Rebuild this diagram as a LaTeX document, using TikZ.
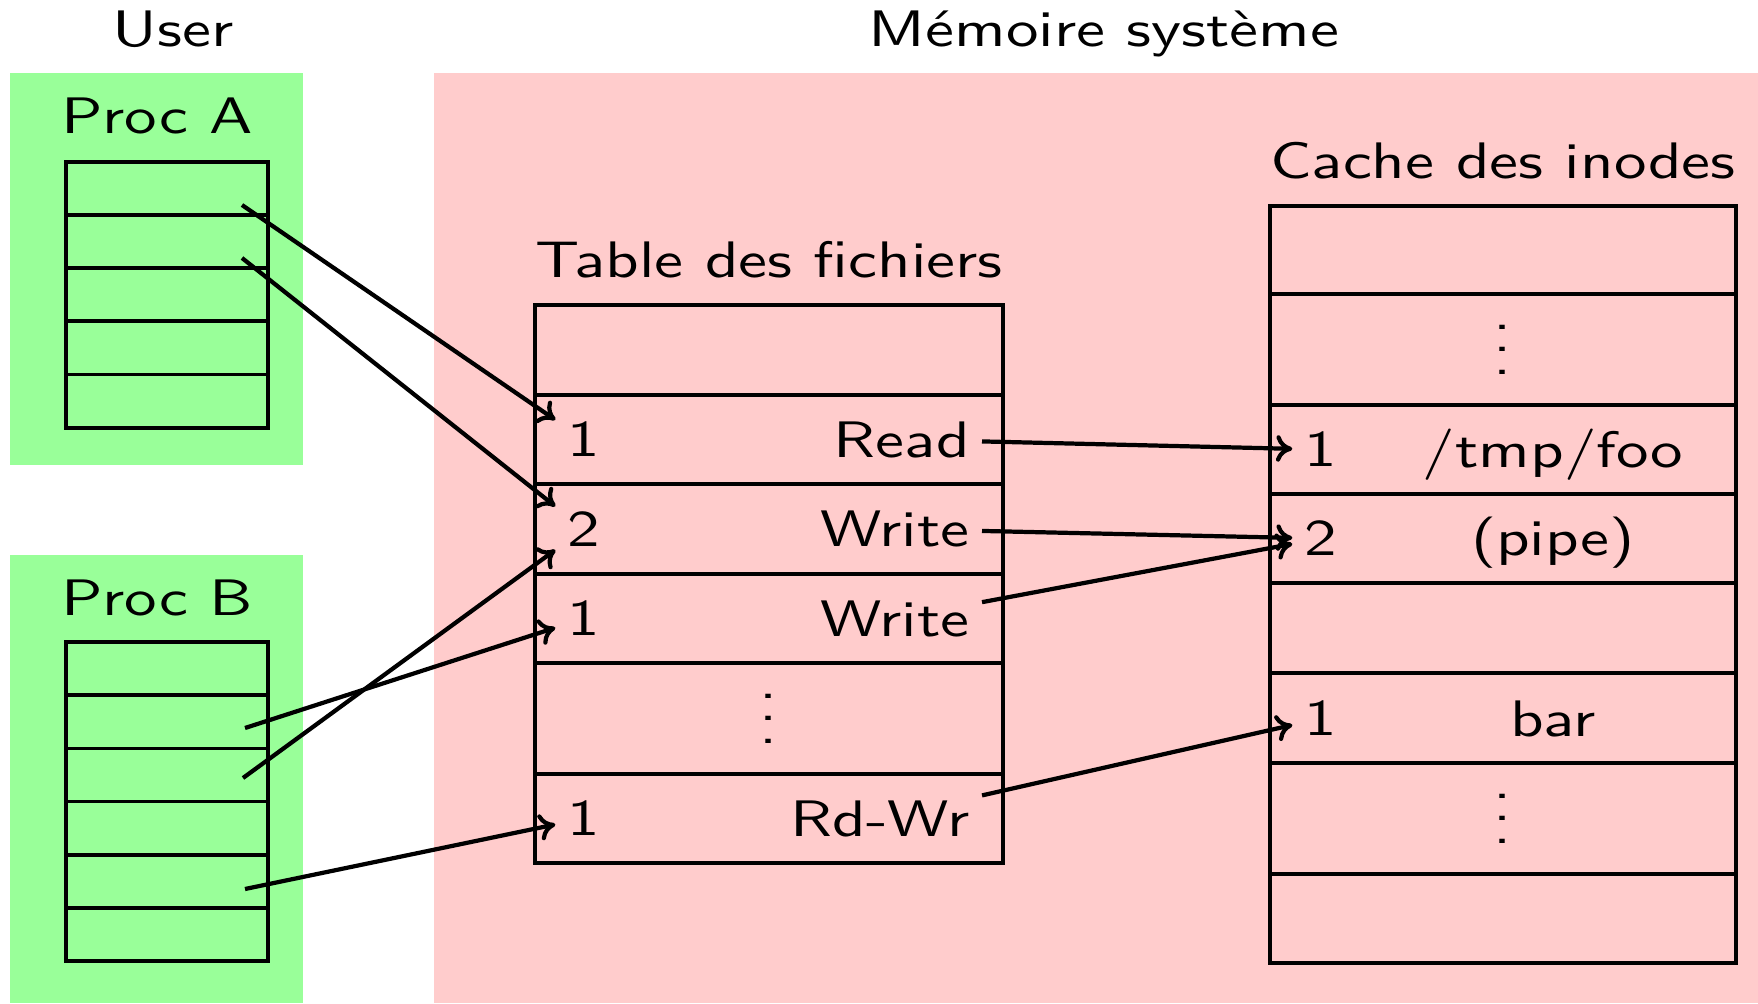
\documentclass[tikz,border=0pt]{standalone}
\usepackage{fontspec}
\setmainfont{lmsans10-regular.otf}[FakeStretch=1.265]
\usetikzlibrary{arrows.meta}
\newcommand\myvdots{\vbox{\baselineskip=6.4pt\lineskiplimit=0pt\hbox{.}\hbox{.}\hbox{.}}}
\begin{document}
\begin{tikzpicture}[x=0.01cm,y=-0.01cm,
  font=\fontsize{14.6}{17.5}\selectfont,
  tbl/.style={draw=black,line width=1.05pt},
  arr/.style={-{To[length=4.6pt,width=7.5pt]},line width=1.2pt},
  lab/.style={anchor=base}]
\useasboundingbox (0,0) rectangle (1758,1003);
% backgrounds
\fill[green!40] (10,73) rectangle (303,465);
\fill[green!40] (10,555) rectangle (303,1003);
\fill[red!20] (434,73) rectangle (1758,1003);
% titles
\node[lab] (user) at (173,47) {User};
\node[lab] (mem) at (1104,47) {Mémoire système};
\node[lab] (pa) at (157,133) {Proc A};
\node[lab] (pb) at (157,615) {Proc B};
\node[lab] (tf) at (769,277) {Table des fichiers};
\node[lab] (ci) at (1503,178) {Cache des inodes};
% process tables
\foreach \y in {161.7,214.9,268.1,321.3,374.5}
  \draw[tbl] (66,\y) rectangle (268,\y+53.2);
\foreach \y in {642,695.2,748.4,801.6,854.8,908}
  \draw[tbl] (66,\y) rectangle (268,\y+53.2);
% file table
\foreach \a/\b in {305/395,395/484,484/574,574/663,663/774,774/863}
  \draw[tbl] (535,\a) rectangle (1003,\b);
% inode cache
\foreach \a/\b in {206/294,294/405,405/494,494/583,583/673,673/763,763/874,874/963}
  \draw[tbl] (1270,\a) rectangle (1736,\b);
% file table contents
\node (f1n) at (584,439.5) {1};
\node[anchor=east] (f1t) at (982,439.5) {Read};
\node (f2n) at (584,529) {2};
\node[anchor=east] (f2t) at (982,529) {Write};
\node (f3n) at (584,618.5) {1};
\node[anchor=east] (f3t) at (982,618.5) {Write};
\node[inner sep=0pt] (fdots) at (769,718.5) {\myvdots};
\node (f5n) at (584,818.5) {1};
\node[anchor=east] (f5t) at (982,818.5) {Rd-Wr};
% cache contents
\node[inner sep=0pt] (cdots1) at (1503,349.5) {\myvdots};
\node (c1n) at (1321,449.5) {1};
\node[lab] (c1t) at (1553,467) {/tmp/foo};
\node (c2n) at (1321,538.5) {2};
\node[lab] (c2t) at (1553,555) {(pipe)};
\node (c3n) at (1321,718.5) {1};
\node[lab] (c3t) at (1553,736) {bar};
\node[inner sep=0pt] (cdots2) at (1503,818.5) {\myvdots};
% arrow starts
\coordinate (a1) at (242,205);
\coordinate (a2) at (242,258);
\coordinate (b1) at (245,728);
\coordinate (b2) at (243,778);
\coordinate (b3) at (245,889);
% arrows
\draw[arr] (a1) -- (f1n);
\draw[arr] (a2) -- (f2n);
\draw[arr] (b1) -- (f3n);
\draw[arr] (b2) -- (f2n);
\draw[arr] (b3) -- (f5n);
\draw[arr] (f1t) -- (c1n);
\draw[arr] (f2t) -- (c2n);
\draw[arr] (f3t) -- (c2n);
\draw[arr] (f5t) -- (c3n);
\end{tikzpicture}
\end{document}
